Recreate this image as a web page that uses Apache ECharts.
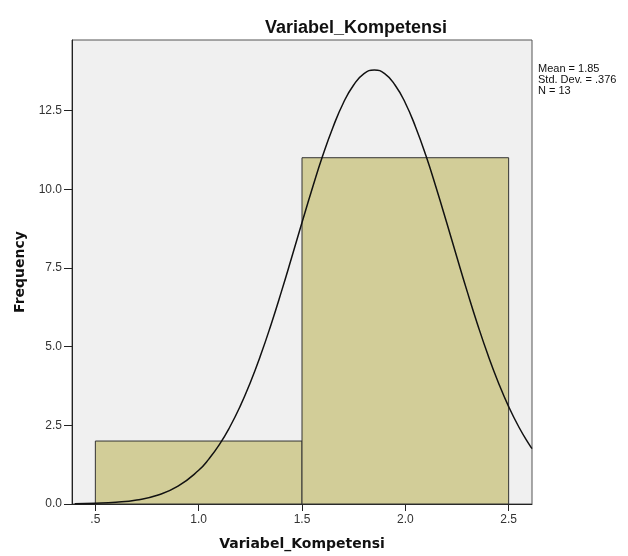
<!DOCTYPE html>
<html>
<head>
<meta charset="utf-8">
<script src="https://cdn.jsdelivr.net/npm/echarts@6/dist/echarts.min.js"></script>
<style>html,body{margin:0;padding:0;background:#fff}#c{width:628px;height:556px}</style>
</head>
<body>
<div id="c"></div>
<script>
// Histogram bins: [lower edge, upper edge, frequency]
const binLower = [0.5, 1.5];
const binUpper = [1.5, 2.5];
const binFreq = [2, 11];
// Normal curve
const curveX = [0.4, 0.5, 0.6, 0.7, 0.8, 0.9, 1.0, 1.05, 1.1, 1.15, 1.2, 1.25, 1.3, 1.35, 1.4, 1.45, 1.5, 1.55, 1.6, 1.65, 1.7, 1.75, 1.8, 1.85, 1.9, 1.95, 2.0, 2.05, 2.1, 2.15, 2.2, 2.25, 2.3, 2.35, 2.4, 2.45, 2.5, 2.55, 2.6, 2.613];
const curveY = [0.008, 0.022, 0.055, 0.128, 0.279, 0.567, 1.071, 1.434, 1.885, 2.438, 3.093, 3.861, 4.730, 5.697, 6.739, 7.830, 8.942, 10.03, 11.06, 11.97, 12.74, 13.31, 13.67, 13.79, 13.67, 13.31, 12.74, 11.97, 11.06, 10.03, 8.942, 7.830, 6.739, 5.697, 4.730, 3.861, 3.093, 2.438, 1.885, 1.76];
const xTicks = [0.5, 1.0, 1.5, 2.0, 2.5];
const xTickLabels = ['.5', '1.0', '1.5', '2.0', '2.5'];
const yTicks = [0, 2.5, 5, 7.5, 10, 12.5];
const yTickLabels = ['0.0', '2.5', '5.0', '7.5', '10.0', '12.5'];
const statsLines = ['Mean = 1.85', 'Std. Dev. = .376', 'N = 13'];
const chartTitle = 'Variabel_Kompetensi';
const xName = 'Variabel_Kompetensi';
const yName = 'Frequency';

const bins = binLower.map((l, i) => [l, binUpper[i], binFreq[i]]);
const curve = curveX.map((x, i) => [x, curveY[i]]);

const chart = echarts.init(document.getElementById('c'), null, {renderer: 'canvas'});
chart.setOption({
  animation: false,
  backgroundColor: '#ffffff',
  title: {
    text: chartTitle, left: 260, top: 14,
    textStyle: {fontFamily: 'Liberation Sans', fontSize: 18, fontWeight: 'bold', color: '#111'}
  },
  grid: {
    left: 72, top: 40, width: 460, height: 464,
    show: true, backgroundColor: '#F0F0F0', borderColor: '#555', borderWidth: 1
  },
  xAxis: {
    type: 'value', min: 0.387, max: 2.613,
    name: xName, nameLocation: 'middle', nameGap: 33,
    nameTextStyle: {fontFamily: 'DejaVu Sans', fontSize: 14, fontWeight: 'bold', color: '#111'},
    axisLine: {show: true, onZero: false, lineStyle: {color: '#222', width: 1}},
    axisTick: {show: true, length: 7, customValues: xTicks, lineStyle: {color: '#222'}},
    axisLabel: {
      customValues: xTicks, margin: 10,
      fontFamily: 'Liberation Sans', fontSize: 12, color: '#333',
      formatter: v => xTickLabels[xTicks.findIndex(t => Math.abs(t - v) < 1e-6)]
    },
    splitLine: {show: false}
  },
  yAxis: {
    type: 'value', min: 0, max: 14.74,
    name: yName, nameLocation: 'middle', nameGap: 44,
    nameTextStyle: {fontFamily: 'DejaVu Sans', fontSize: 14, fontWeight: 'bold', color: '#111'},
    axisLine: {show: true, onZero: false, lineStyle: {color: '#222', width: 1}},
    axisTick: {show: true, length: 8, customValues: yTicks, lineStyle: {color: '#222'}},
    axisLabel: {
      customValues: yTicks, margin: 10,
      fontFamily: 'Liberation Sans', fontSize: 12, color: '#333',
      formatter: v => yTickLabels[yTicks.findIndex(t => Math.abs(t - v) < 1e-6)]
    },
    splitLine: {show: false}
  },
  series: [
    {
      type: 'custom',
      data: bins,
      encode: {x: [0, 1], y: 2},
      renderItem: function (params, api) {
        const p0 = api.coord([api.value(0), 0]);
        const p1 = api.coord([api.value(1), api.value(2)]);
        return {
          type: 'rect',
          shape: {x: p0[0], y: p1[1], width: p1[0] - p0[0], height: p0[1] - p1[1]},
          style: {fill: '#D2CD98', stroke: '#333', lineWidth: 1}
        };
      },
      z: 2
    },
    {
      type: 'line',
      data: curve,
      smooth: true,
      showSymbol: false,
      clip: true,
      lineStyle: {color: '#111', width: 1.5},
      z: 3
    }
  ],
  graphic: statsLines.map((t, i) => ({
    type: 'text', left: 538, top: 63 + i * 11,
    style: {text: t, font: '11px "Liberation Sans"', fill: '#111'}
  }))
});
</script>
</body>
</html>
